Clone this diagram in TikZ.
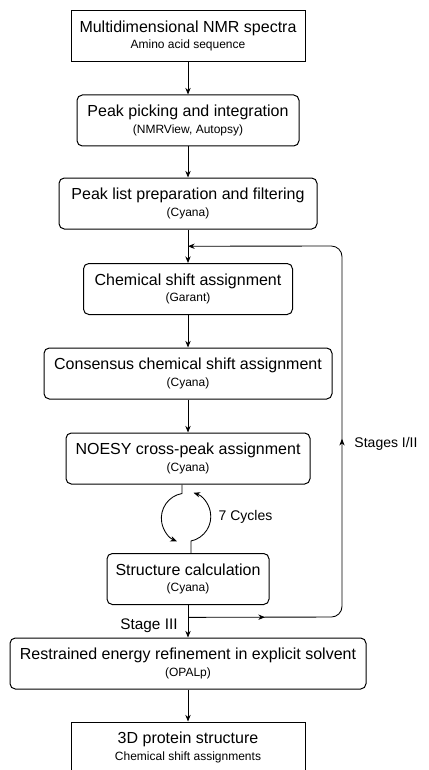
\documentclass[tikz,border=0pt]{standalone}
\usepackage{fontspec}
\setmainfont{Liberation Sans}
\usetikzlibrary{arrows.meta,calc,decorations.markings}

\tikzset{
  stepbox/.style={draw, line width=0.75pt, rounded corners=4pt, minimum height=38.25pt,
    inner xsep=6pt, align=center, font=\fontsize{12}{12.4}\selectfont},
  endbox/.style={stepbox, sharp corners, minimum width=175.5pt},
  flow/.style={-{Stealth[length=5pt,width=4pt]}, line width=0.65pt},
  note/.style={inner sep=0pt, font=\fontsize{10.5}{12}\selectfont},
}
\newcommand{\subline}[1]{{\fontsize{9}{11}\selectfont #1}}

\begin{document}
\begin{tikzpicture}[x=0.75pt, y=0.75pt]
  \useasboundingbox (0,0) rectangle (428,-770);
  \clip (0,0) rectangle (428,-770);
  % main column of boxes
  \node[endbox] (spectra) at (188,-36) {Multidimensional NMR spectra\\\subline{Amino acid sequence}};
  \node[stepbox, minimum width=166.5pt] (picking) at (188,-120.5) {Peak picking and integration\\\subline{(NMRView, Autopsy)}};
  \node[stepbox, minimum width=193.5pt] (filter) at (188,-203.5) {Peak list preparation and filtering\\\subline{(Cyana)}};
  \node[stepbox, minimum width=156.75pt] (shift) at (188,-289) {Chemical shift assignment\\\subline{(Garant)}};
  \node[stepbox, minimum width=216pt] (consensus) at (188,-373.5) {Consensus chemical shift assignment\\\subline{(Cyana)}};
  \node[stepbox, minimum width=183pt] (noesy) at (188,-458.5) {NOESY cross-peak assignment\\\subline{(Cyana)}};
  \node[stepbox, minimum width=121.5pt] (calc) at (188,-579) {Structure calculation\\\subline{(Cyana)}};
  \node[stepbox, minimum width=267pt] (refine) at (188,-663.5) {Restrained energy refinement in explicit solvent\\\subline{(OPALp)}};
  \node[endbox] (result) at (188,-747.5) {3D protein structure\\\subline{Chemical shift assignments}};

  % arrows down the column
  \draw[flow] (spectra) -- (picking);
  \draw[flow] (picking) -- (filter);
  \draw[flow] (filter) -- (shift);
  \draw[flow] (shift) -- (consensus);
  \draw[flow] (consensus) -- (noesy);
  \draw[flow] (calc) -- (refine);
  \draw[flow] (refine) -- (result);

  % 7 cycles between noesy and calc
  \draw[flow] ($(noesy.south)+(-6,0)$) -- ++(0,-9) arc[start angle=100, end angle=248, radius=25];
  \draw[flow] ($(calc.north)+(3,0)$) -- ++(0,12) arc[start angle=-78, end angle=72, radius=25];
  \node[note] (cycles) at (245.5,-517) {7 Cycles};

  % stages I/II feedback loop
  \coordinate (merge) at ($(filter.south)!0.5!(shift.north)$);
  \coordinate (split) at ($(calc.south)!0.38!(refine.north)$);
  \coordinate (loopbr) at (342,-617);
  \coordinate (looptr) at (342,-246);
  \draw[flow, rounded corners=8pt, postaction={decorate},
    decoration={markings,
      mark=at position 57.75pt with {\arrow{Stealth[length=5pt,width=4pt]}},
      mark=at position 245.7pt with {\arrow{Stealth[length=5pt,width=4pt]}}}]
    (split) -- (loopbr) -- (looptr) -- (merge);
  \node[note] (stages) at (386,-444) {Stages I/II};
  \node[note, font=\fontsize{11.5}{13}\selectfont] (stage3) at (149,-626) {Stage III};
\end{tikzpicture}
\end{document}
